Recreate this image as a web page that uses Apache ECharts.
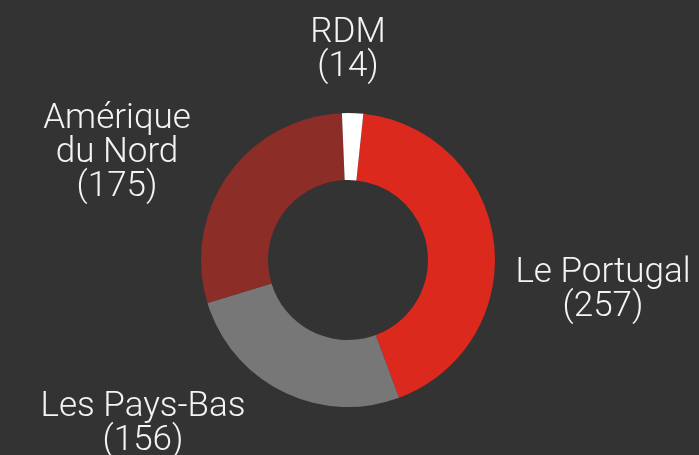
<!DOCTYPE html>
<html>
<head>
<meta charset="utf-8">
<script src="https://cdn.jsdelivr.net/npm/echarts@6/dist/echarts.min.js"></script>
<style>
html,body{margin:0;padding:0;background:#333333;}
#chart{width:699px;height:455px;}
</style>
</head>
<body>
<div id="chart"></div>
<script>
const categories = ['Le Portugal', 'Les Pays-Bas', 'Amérique\ndu Nord', 'RDM'];
const values = [257, 156, 175, 14];
const colors = ['#dc291e', '#777777', '#8d2d27', '#ffffff'];

// label anchor offsets (px) from pie centre, layout only
const labelOffsets = [[255, 30], [-205, 164], [-231, -107], [0, -210]];
const CX = 348, CY = 260;

const chart = echarts.init(document.getElementById('chart'));
chart.setOption({
  backgroundColor: '#333333',
  animation: false,
  series: [{
    type: 'pie',
    center: [CX, CY],
    radius: [80, 147],
    startAngle: 84,
    clockwise: true,
    avoidLabelOverlap: false,
    itemStyle: { borderWidth: 0 },
    label: {
      show: true,
      position: 'outside',
      color: '#f4f4f4',
      fontFamily: 'Roboto',
      fontWeight: 300,
      fontSize: 35,
      lineHeight: 34,
      align: 'center',
      formatter: p => p.name + '\n(' + p.value + ')'
    },
    labelLine: { show: false },
    labelLayout: function (params) {
      const o = labelOffsets[params.dataIndex];
      return { x: CX + o[0], y: CY + o[1], align: 'center', verticalAlign: 'middle' };
    },
    emphasis: { disabled: true },
    data: categories.map((c, i) => ({ name: c, value: values[i], itemStyle: { color: colors[i] } }))
  }]
});
</script>
</body>
</html>
